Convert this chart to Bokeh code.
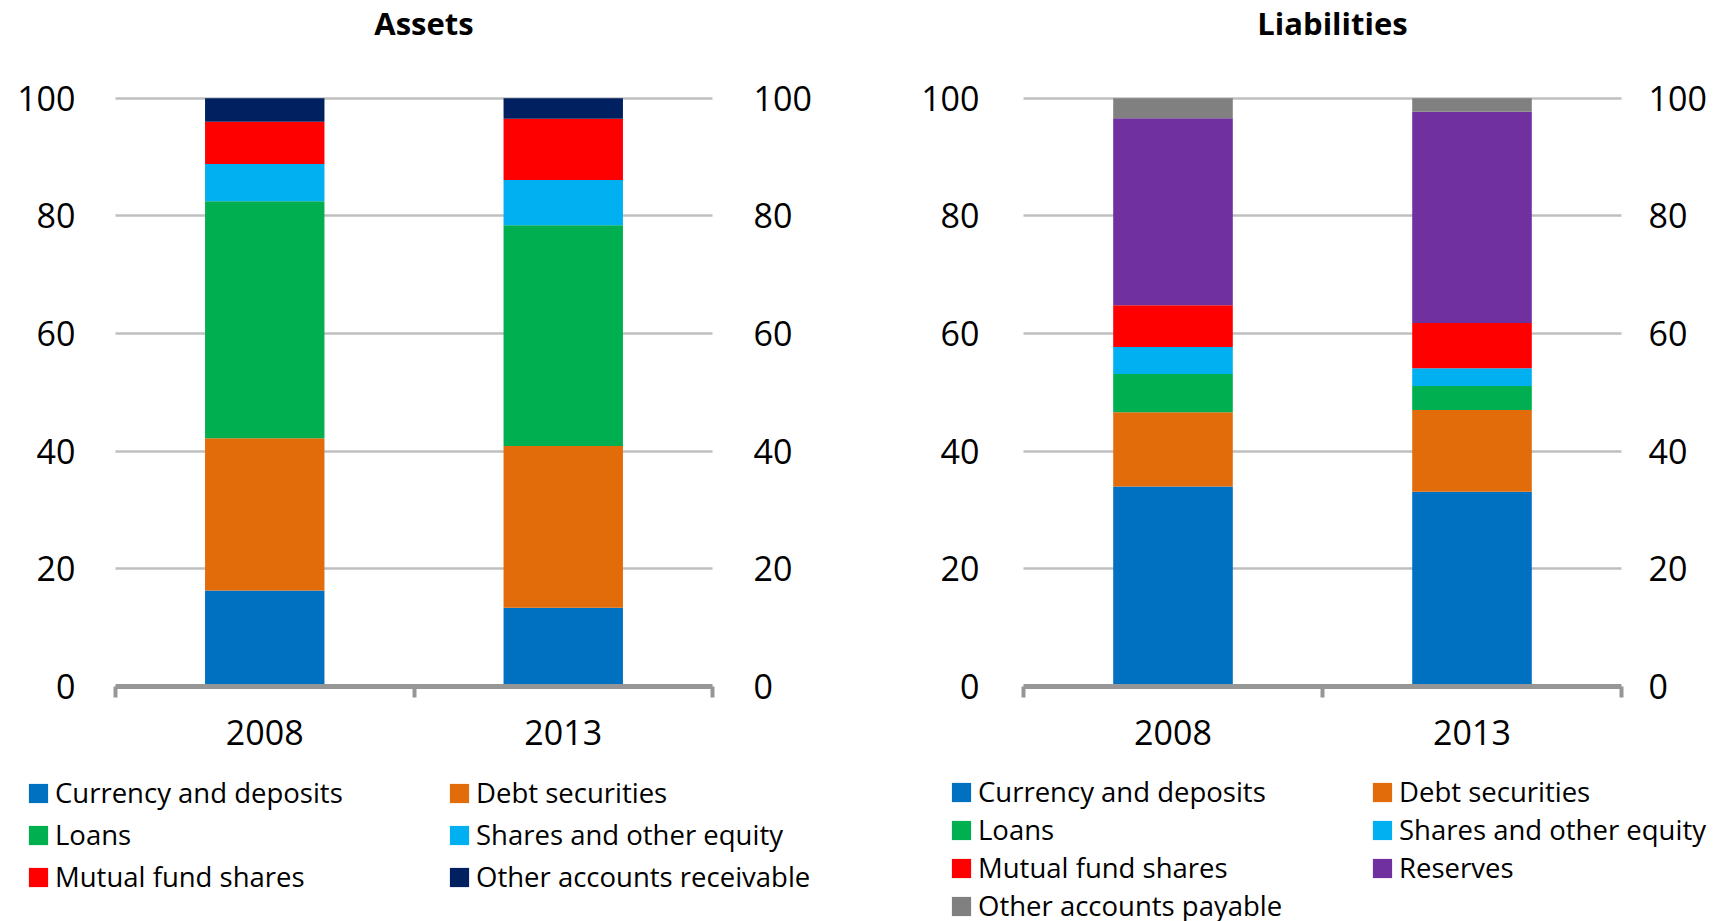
from bokeh.plotting import figure
from bokeh.layouts import row
from bokeh.models import (Range1d, LinearAxis, FixedTicker, Legend, LegendItem,
                          ColumnDataSource, Label)
from bokeh.embed import file_html
from bokeh.resources import INLINE

years = ["2008", "2013"]
y_ticks = [0, 20, 40, 60, 80, 100]

asset_labels = ["Currency and deposits", "Debt securities", "Loans",
                "Shares and other equity", "Mutual fund shares",
                "Other accounts receivable"]
asset_currency = [16.3, 13.4]
asset_debt = [25.9, 27.5]
asset_loans = [40.3, 37.5]
asset_shares = [6.3, 7.7]
asset_mutual = [7.2, 10.4]
asset_other = [4.0, 3.5]

liab_labels = ["Currency and deposits", "Debt securities", "Loans",
               "Shares and other equity", "Mutual fund shares", "Reserves",
               "Other accounts payable"]
liab_currency = [34.0, 33.1]
liab_debt = [12.6, 13.9]
liab_loans = [6.5, 4.1]
liab_shares = [4.6, 3.0]
liab_mutual = [7.1, 7.7]
liab_reserves = [31.8, 35.9]
liab_other = [3.4, 2.3]

asset_colors = ["#0070C0", "#E36C0A", "#00B050", "#00B0F0", "#FF0000", "#002060"]
liab_colors = ["#0070C0", "#E36C0A", "#00B050", "#00B0F0", "#FF0000", "#7030A0", "#808080"]

FONT = "Open Sans"
AXIS_GRAY = "#969696"
GRID_GRAY = "#C0C0C0"
TICK_SIZE = "34px"
H = 921            # figure height (px)
TOP_PX = 97.7      # pixel row of the 100 gridline
ZERO_PX = 686.0    # pixel row of the 0 baseline


def style_y_axis(ax, standoff):
    ax.axis_line_color = None
    ax.major_tick_line_color = None
    ax.minor_tick_line_color = None
    ax.major_tick_out = 0
    ax.major_tick_in = 0
    ax.major_label_text_font = FONT
    ax.major_label_text_font_size = TICK_SIZE
    ax.major_label_text_color = "black"
    ax.major_label_standoff = standoff


def make_panel(title, labels, series, colors, width, ax_left, ax_right,
               left_so, right_so, leg_x, leg_y, leg_spacing, leg_label_width):
    n = len(years)
    # ranges chosen so that the whole canvas is the frame
    ux = n / (ax_right - ax_left)
    x_range = Range1d(-ax_left * ux, n + (width - ax_right) * ux)
    uy = 100.0 / (ZERO_PX - TOP_PX)
    y_range = Range1d(-(H - ZERO_PX) * uy, 100 + TOP_PX * uy)

    data = {"x": [i + 0.5 for i in range(n)]}
    for lab, vals in zip(labels, series):
        data[lab] = vals
    src = ColumnDataSource(data)

    p = figure(width=width, height=H, x_range=x_range, y_range=y_range,
               output_backend="svg", toolbar_location=None, title_location=None,
               min_border=0, min_border_left=0, min_border_right=0,
               min_border_top=0, min_border_bottom=0)
    p.outline_line_color = None
    p.background_fill_color = "white"
    p.border_fill_color = "white"

    rends = p.vbar_stack(labels, x="x", width=0.4, color=colors, line_width=0,
                         source=src)

    # x axis at y = 0, ticks at category boundaries
    xa = p.xaxis[0]
    xa.fixed_location = 0
    xa.bounds = (0, n)
    xa.ticker = FixedTicker(ticks=data["x"], minor_ticks=list(range(n + 1)))
    xa.major_label_overrides = {x: y for x, y in zip(data["x"], years)}
    xa.major_tick_line_color = None
    xa.major_tick_out = 0
    xa.major_tick_in = 0
    xa.minor_tick_line_color = AXIS_GRAY
    xa.minor_tick_line_width = 4
    xa.minor_tick_out = 11
    xa.minor_tick_in = 0
    xa.axis_line_color = AXIS_GRAY
    xa.axis_line_width = 5
    xa.major_label_text_font = FONT
    xa.major_label_text_font_size = TICK_SIZE
    xa.major_label_text_color = "black"
    xa.major_label_standoff = 22
    p.xgrid.visible = False

    ya = p.yaxis[0]
    ya.fixed_location = 0
    ya.ticker = FixedTicker(ticks=y_ticks)
    style_y_axis(ya, left_so)

    ra = LinearAxis(ticker=FixedTicker(ticks=y_ticks), fixed_location=n)
    style_y_axis(ra, right_so)
    p.add_layout(ra, "right")

    p.ygrid.ticker = FixedTicker(ticks=y_ticks[1:])
    p.ygrid.grid_line_color = GRID_GRAY
    p.ygrid.grid_line_width = 2.5
    try:
        p.ygrid.cross_bounds = (0, n)
    except Exception:
        # fallback: draw the horizontal grid with inward ticks of the left axis
        p.ygrid.visible = False
        ya.major_tick_line_color = GRID_GRAY
        ya.major_tick_line_width = 2.5
        ya.major_tick_in = int(ax_right - ax_left)

    p.add_layout(Label(x=n / 2, y=H - 22, x_units="data", y_units="screen",
                       x_offset=10, text=title, text_align="center",
                       text_baseline="alphabetic", text_font=FONT,
                       text_font_size="31px", text_font_style="bold",
                       text_color="black"))

    items = [LegendItem(label=lab, renderers=[r]) for lab, r in zip(labels, rends)]
    legend = Legend(items=items, orientation="horizontal", ncols=2,
                    location=(leg_x, leg_y),
                    glyph_width=24, glyph_height=24, label_standoff=5,
                    label_width=leg_label_width, spacing=leg_spacing,
                    padding=0, margin=0, border_line_color=None,
                    background_fill_alpha=0,
                    label_text_font=FONT, label_text_font_size="27.5px",
                    label_text_color="black")
    p.add_layout(legend, "center")
    return p


W1 = 850
W2 = 869
pa = make_panel("Assets", asset_labels,
                [asset_currency, asset_debt, asset_loans, asset_shares, asset_mutual, asset_other],
                asset_colors, W1, 115, 712, 40, 41, 26, 26, 5, 387)
pl = make_panel("Liabilities", liab_labels,
                [liab_currency, liab_debt, liab_loans, liab_shares, liab_mutual, liab_reserves, liab_other],
                liab_colors, W2, 1023 - W1, 1621 - W1, 44, 27, 949 - W1, -3, 1, 391)

layout = row(pa, pl)
open("out.html", "w").write(file_html(layout, INLINE))
